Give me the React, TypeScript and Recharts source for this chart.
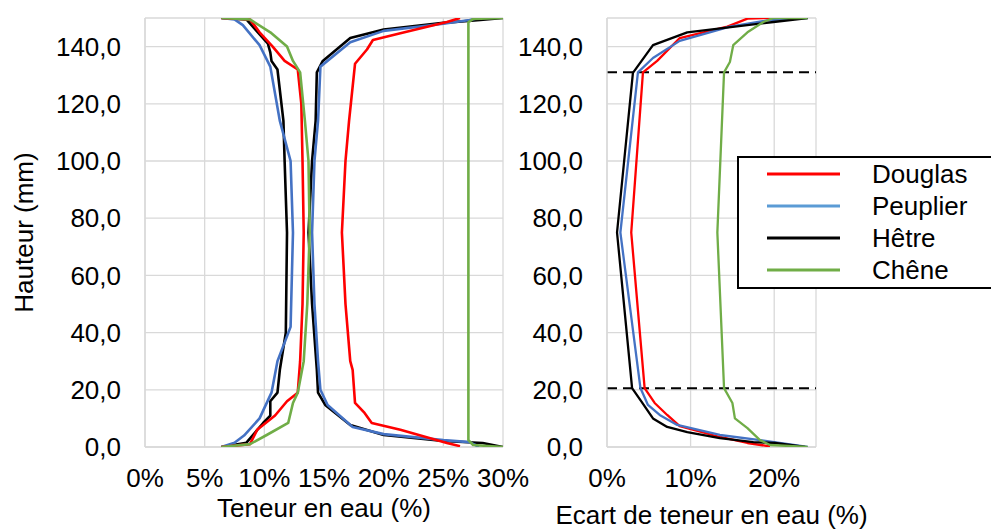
import React from 'react';
import {
  ScatterChart,
  Scatter,
  XAxis,
  YAxis,
  CartesianGrid,
  ReferenceLine,
  Legend,
} from 'recharts';

// [teneur en eau %, hauteur mm]
const douglasLow: [number, number][] = [
  [6.4, 0], [8.8, 1], [9.4, 6], [10.9, 11], [11.9, 16], [12.8, 19], [13.0, 30], [13.2, 50],
  [13.3, 75], [13.2, 100], [13.1, 120], [12.8, 132], [11.7, 135], [10.7, 140], [9.6, 145],
  [8.8, 149.5], [6.4, 150],
];
const douglasHigh: [number, number][] = [
  [26.4, 0.3], [25.3, 1.4], [21.4, 6], [19.0, 8.4], [18.4, 11.9], [17.6, 15.4], [17.4, 27],
  [17.2, 30], [16.8, 50], [16.5, 75], [16.8, 100], [17.1, 114], [17.6, 134], [18.6, 139],
  [19.1, 142.3], [21.4, 144.7], [25.3, 148.6], [26.4, 150],
];
const peuplierLow: [number, number][] = [
  [6.4, 0], [7.5, 1.5], [8.3, 4], [9.6, 10], [10.6, 19], [11.1, 30], [12.2, 42], [12.4, 75],
  [12.2, 100], [11.3, 114], [10.5, 133], [9.6, 140.5], [8.2, 147.5], [7.5, 149.5], [6.4, 150],
];
const peuplierHigh: [number, number][] = [
  [28, 0], [27.2, 1.7], [25, 2.4], [20, 4.5], [17.4, 7], [15.3, 14.7], [14.7, 20], [14.5, 30],
  [14.2, 50], [14.0, 75], [14.2, 100], [14.5, 114], [14.7, 133], [17.2, 141.5], [20, 145.5],
  [25, 148], [27.2, 149.3], [28, 150],
];
const hetreLow: [number, number][] = [
  [6.4, 0], [8.5, 1.5], [9.9, 8.4], [10.5, 11], [10.5, 16], [11.1, 19], [11.3, 27], [11.8, 40],
  [11.9, 75], [11.7, 100], [11.6, 114], [11.1, 132], [10.6, 135], [10.5, 138], [10.3, 141],
  [8.5, 149.5], [6.4, 150],
];
const hetreHigh: [number, number][] = [
  [30, 0], [28.3, 1.4], [25, 2.1], [20, 4.2], [17.2, 7.7], [15.1, 14.7], [14.5, 19], [14.4, 27],
  [14.0, 50], [13.7, 75], [14.0, 100], [14.3, 114], [14.4, 131], [14.9, 135], [17.2, 143],
  [20, 146], [25, 148.3], [28.1, 149.3], [30, 150],
];
const cheneLow: [number, number][] = [
  [6.4, 0], [8.8, 1], [10.2, 4.2], [12.0, 8.4], [12.4, 15.4], [12.8, 19], [13.3, 30], [13.6, 50],
  [13.8, 75], [13.7, 100], [13.4, 114], [13.0, 131], [12.4, 135], [11.9, 140], [10.5, 145],
  [8.8, 149.5], [6.4, 150],
];
const cheneHigh: [number, number][] = [
  [30, 0], [27.5, 0.7], [27.1, 2.4], [27.1, 148.5], [27.5, 149.7], [30, 150],
];

// [écart de teneur en eau %, hauteur mm]
const douglasEcart: [number, number][] = [
  [19.5, 0.2], [16.8, 1.4], [13.5, 3.5], [8.7, 7.3], [7.2, 11.2], [5.7, 15.4], [4.5, 20.6],
  [2.9, 75], [4.3, 131], [6.0, 135], [8.7, 143], [14.4, 147], [16.8, 149.8], [19.5, 150],
];
const peuplierEcart: [number, number][] = [
  [24, 0], [18.3, 2.4], [13.5, 4.2], [8.4, 7.7], [6.3, 11.2], [4.9, 14.7], [4.0, 20.6],
  [1.6, 75], [3.7, 131], [5.5, 136], [8.7, 142], [14.7, 147], [19.5, 149.3], [24, 150],
];
const hetreEcart: [number, number][] = [
  [23.7, 0], [20.1, 1.4], [17.5, 1.7], [13.5, 3.1], [9.6, 5.2], [7.2, 7], [5.5, 10], [4.0, 16.4],
  [3.0, 20.6], [1.2, 75], [3.1, 130.8], [5.5, 140.5], [9.6, 145], [19.9, 148.6], [24.0, 150],
];
const cheneEcart: [number, number][] = [
  [24, 0], [19.5, 0.7], [18.3, 2.4], [16.8, 6.6], [15.3, 10], [15.0, 15.4], [14.0, 20.6],
  [13.2, 75], [14.0, 131], [14.7, 134.6], [15.1, 140.5], [16.8, 145], [18.7, 148.6],
  [19.9, 150], [24, 150],
];

const SPECIES = ['Douglas', 'Peuplier', 'Hêtre', 'Chêne'];
const HEIGHT_TICKS = [0, 20, 40, 60, 80, 100, 120, 140];
const MOISTURE_TICKS = [0, 5, 10, 15, 20, 25, 30];
const GAP_TICKS = [0, 10, 20];
const ZONE_LIMITS = [20.5, 131];

const COLORS: Record<string, string> = {
  Douglas: '#ff0000',
  Peuplier: '#4472c4',
  Hêtre: '#000000',
  Chêne: '#70ad47',
};
const LEGEND_COLORS: Record<string, string> = {
  Douglas: '#ff0000',
  Peuplier: '#5b9bd5',
  Hêtre: '#000000',
  Chêne: '#70ad47',
};

const toPoints = (arr: [number, number][]) => arr.map(([x, y]) => ({ x, y }));

const leftSeries = [
  { name: 'Hêtre', data: hetreLow },
  { name: 'Hêtre', data: hetreHigh },
  { name: 'Peuplier', data: peuplierLow },
  { name: 'Peuplier', data: peuplierHigh },
  { name: 'Douglas', data: douglasLow },
  { name: 'Douglas', data: douglasHigh },
  { name: 'Chêne', data: cheneLow },
  { name: 'Chêne', data: cheneHigh },
];
const rightSeries: Record<string, [number, number][]> = {
  Douglas: douglasEcart,
  Peuplier: peuplierEcart,
  Hêtre: hetreEcart,
  Chêne: cheneEcart,
};

const FONT = 26;
const GRID = '#d9d9d9';
const noDot = () => <g />;
const fmtHeight = (v: number) => v.toFixed(1).replace('.', ',');
const fmtPct = (v: number) => `${v}%`;

const LegendBox = (props: any) => {
  // garder l'ordre des séries, pas l'ordre alphabétique
  const payload = [...(props.payload || [])].sort(
    (a: any, b: any) => SPECIES.indexOf(a.value) - SPECIES.indexOf(b.value)
  );
  return (
    <div
      style={{
        border: '2px solid #000',
        width: 280,
        height: 133,
        boxSizing: 'border-box',
        background: '#fff',
        position: 'relative',
      }}
    >
      {payload.map((entry: any, i: number) => (
        <div
          key={entry.value}
          style={{ position: 'absolute', left: 0, top: i * 32, height: 32, width: '100%' }}
        >
          <svg width={110} height={32} style={{ position: 'absolute', left: 0, top: 0 }}>
            <line x1={28} x2={101} y1={16} y2={16} stroke={LEGEND_COLORS[entry.value] || entry.color} strokeWidth={3} />
          </svg>
          <span
            style={{
              position: 'absolute',
              left: 133,
              top: 0,
              lineHeight: '32px',
              fontSize: FONT,
              color: '#000',
              whiteSpace: 'nowrap',
            }}
          >
            {entry.value}
          </span>
        </div>
      ))}
    </div>
  );
};

export default function App() {
  return (
    <div
      style={{
        position: 'absolute',
        left: 0,
        top: 0,
        width: 991,
        height: 530,
        overflow: 'hidden',
        background: '#fff',
        fontFamily: '"Liberation Sans", Arial, sans-serif',
      }}
    >
      <div style={{ position: 'absolute', left: 0, top: 0 }}>
        <ScatterChart width={540} height={530} margin={{ top: 18, right: 37, bottom: 0, left: 0 }}>
          <CartesianGrid stroke={GRID} strokeWidth={1.3} />
          <XAxis
            type="number"
            dataKey="x"
            domain={[0, 30]}
            ticks={MOISTURE_TICKS}
            tickFormatter={fmtPct}
            height={83}
            tickLine={false}
            tickSize={0}
            tickMargin={22}
            axisLine={{ stroke: GRID, strokeWidth: 1.3 }}
            tick={{ fontSize: FONT, fill: '#000' }}
            label={{ value: 'Teneur en eau (%)', position: 'insideBottom', offset: 13, fontSize: FONT, fill: '#000' }}
            allowDataOverflow
          />
          <YAxis
            type="number"
            dataKey="y"
            domain={[0, 150]}
            ticks={HEIGHT_TICKS}
            tickFormatter={fmtHeight}
            width={145}
            tickLine={false}
            tickSize={0}
            tickMargin={24}
            axisLine={{ stroke: GRID, strokeWidth: 1.3 }}
            tick={{ fontSize: FONT, fill: '#000' }}
            label={{
              value: 'Hauteur (mm)',
              angle: -90,
              position: 'insideLeft',
              offset: 24,
              fontSize: FONT,
              fill: '#000',
              style: { textAnchor: 'middle' },
            }}
            allowDataOverflow
          />
          {leftSeries.map((s, i) => (
            <Scatter
              key={i}
              name={s.name}
              data={toPoints(s.data)}
              fill={COLORS[s.name]}
              line={{ stroke: COLORS[s.name], strokeWidth: 2.6, strokeLinejoin: 'round' }}
              lineType="joint"
              shape={noDot}
              isAnimationActive={false}
            />
          ))}
        </ScatterChart>
      </div>
      <div style={{ position: 'absolute', left: 500, top: 0 }}>
        <ScatterChart width={491} height={530} margin={{ top: 18, right: 175, bottom: 0, left: 0 }}>
          <CartesianGrid stroke={GRID} strokeWidth={1.3} />
          <XAxis
            type="number"
            dataKey="x"
            domain={[0, 25]}
            ticks={GAP_TICKS}
            tickFormatter={fmtPct}
            height={83}
            tickLine={false}
            tickSize={0}
            tickMargin={22}
            axisLine={{ stroke: GRID, strokeWidth: 1.3 }}
            tick={{ fontSize: FONT, fill: '#000' }}
            label={{ value: 'Ecart de teneur en eau (%)', position: 'insideBottom', offset: 6, fontSize: FONT, fill: '#000' }}
            allowDataOverflow
          />
          <YAxis
            type="number"
            dataKey="y"
            domain={[0, 150]}
            ticks={HEIGHT_TICKS}
            tickFormatter={fmtHeight}
            width={107}
            tickLine={false}
            tickSize={0}
            tickMargin={24}
            axisLine={{ stroke: GRID, strokeWidth: 1.3 }}
            tick={{ fontSize: FONT, fill: '#000' }}
            allowDataOverflow
          />
          {SPECIES.map((name) => (
            <Scatter
              key={name}
              name={name}
              data={toPoints(rightSeries[name])}
              fill={COLORS[name]}
              line={{ stroke: COLORS[name], strokeWidth: 2.3, strokeLinejoin: 'round' }}
              lineType="joint"
              shape={noDot}
              legendType="line"
              isAnimationActive={false}
            />
          ))}
          {ZONE_LIMITS.map((h) => (
            <ReferenceLine key={h} y={h} stroke="#000" strokeWidth={2} strokeDasharray="10 6" />
          ))}
          <Legend
            layout="vertical"
            align="center"
            verticalAlign="middle"
            content={<LegendBox />}
            wrapperStyle={{ left: 237, top: 156, width: 280, height: 133 }}
          />
        </ScatterChart>
      </div>
    </div>
  );
}
